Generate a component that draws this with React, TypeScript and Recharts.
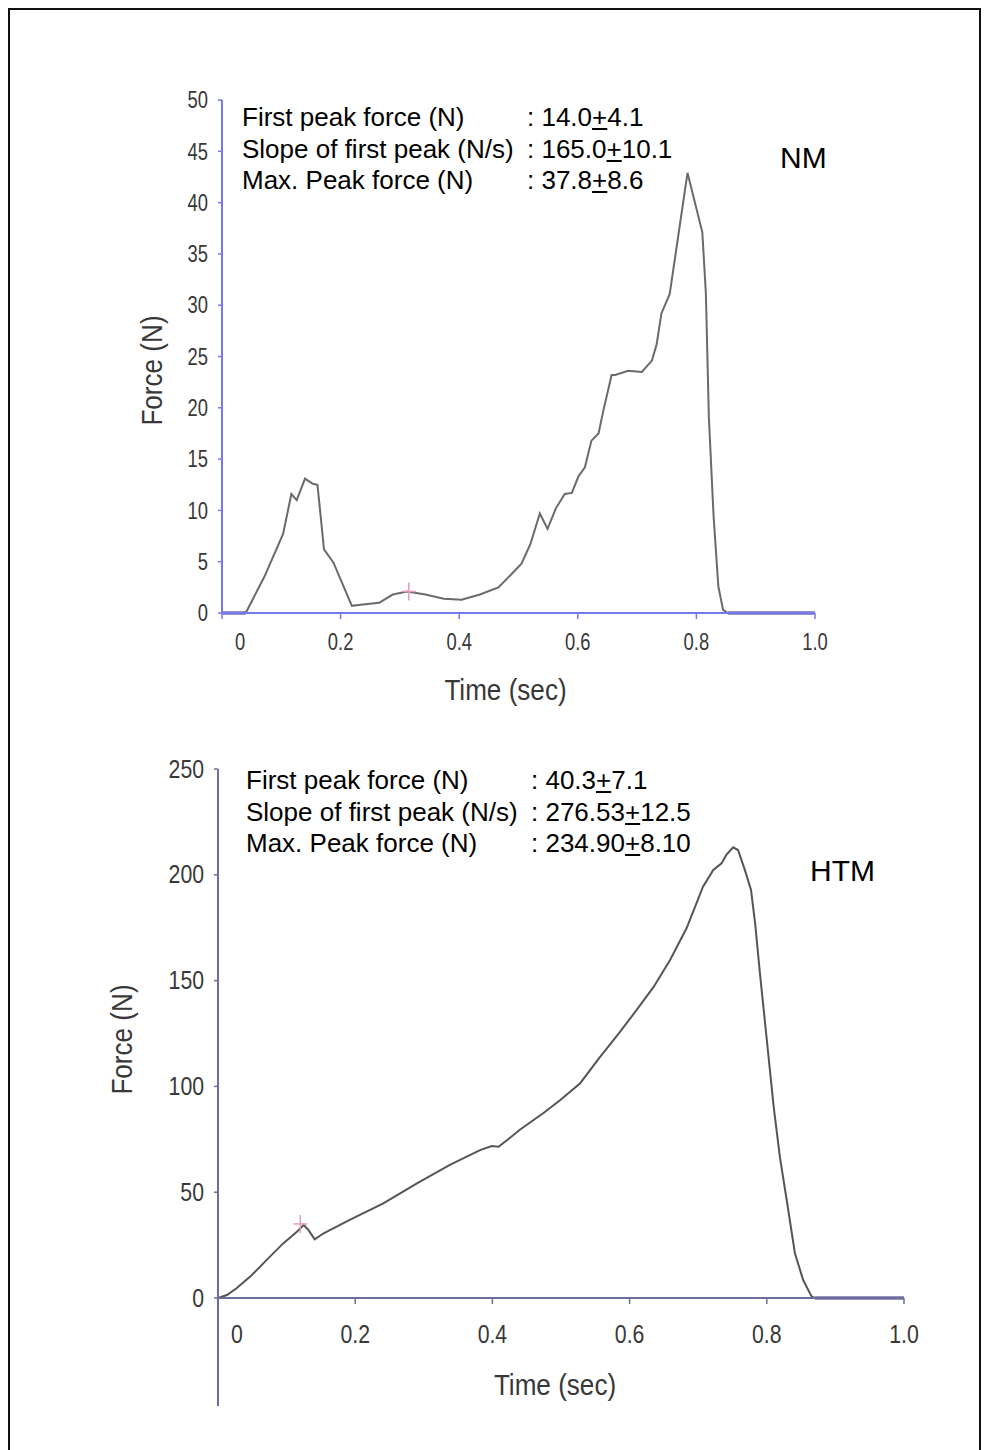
import { ComposedChart, Line, XAxis, YAxis, ReferenceLine, ReferenceDot, Label } from 'recharts';

// NM trace (time in s, force in N)
const nmTime = [
  0, 0.02, 0.04, 0.072, 0.103, 0.117, 0.126, 0.14, 0.153, 0.161, 0.172, 0.188, 0.219, 0.234, 0.265,
  0.288, 0.312, 0.343, 0.374, 0.404, 0.435, 0.466, 0.49, 0.505, 0.52, 0.536, 0.549, 0.563, 0.578,
  0.59, 0.601, 0.612, 0.623, 0.635, 0.643, 0.657, 0.663, 0.685, 0.708, 0.725, 0.733, 0.741, 0.755,
  0.769, 0.785, 0.81, 0.816, 0.821, 0.829, 0.837, 0.845, 0.853, 0.9, 0.95, 1.0,
];
const nmForce = [
  0, 0, 0, 3.6, 7.7, 11.6, 11.0, 13.1, 12.6, 12.5, 6.2, 4.9, 0.7, 0.8, 1.0,
  1.8, 2.1, 1.8, 1.4, 1.3, 1.8, 2.5, 3.9, 4.8, 6.7, 9.7, 8.2, 10.2, 11.6,
  11.7, 13.3, 14.2, 16.8, 17.5, 19.7, 23.2, 23.2, 23.6, 23.5, 24.6, 26.2, 29.2, 31.1,
  36.6, 42.9, 37.1, 31.1, 19.1, 9.4, 2.6, 0.3, 0, 0, 0, 0,
];
const nmTicksY = [0, 5, 10, 15, 20, 25, 30, 35, 40, 45, 50];
const nmMark = [0.315, 2.1];
const nmZeroRuns = [[0, 0.04], [0.853, 1.0]];
const nmStats = [
  ['First peak force (N)', '14.0', '4.1'],
  ['Slope of first peak (N/s)', '165.0', '10.1'],
  ['Max. Peak force (N)', '37.8', '8.6'],
];

// HTM trace
const htmTime = [
  0, 0.013, 0.027, 0.047, 0.071, 0.095, 0.115, 0.125, 0.132, 0.141, 0.154, 0.192, 0.241, 0.29,
  0.338, 0.382, 0.399, 0.409, 0.423, 0.44, 0.474, 0.499, 0.528, 0.557, 0.586, 0.61, 0.635, 0.659,
  0.683, 0.707, 0.722, 0.734, 0.741, 0.751, 0.758, 0.768, 0.777, 0.783, 0.79, 0.8, 0.81, 0.819,
  0.829, 0.841, 0.853, 0.865, 0.87, 0.93, 1.0,
];
const htmForce = [
  0, 1.4, 4.6, 10.1, 18, 25.8, 31.3, 34.5, 32.1, 27.7, 30.6, 36.9, 44.7, 54.2,
  62.9, 69.9, 71.8, 71.5, 75, 79.5, 87.3, 93.6, 101.5, 114, 125.8, 136, 147, 159.7,
  174.7, 194.4, 202.3, 205.4, 209.4, 213, 211.7, 202.3, 192.8, 177, 153.4, 122, 90.4, 66.8,
  46.3, 21.1, 8.5, 0.9, 0, 0, 0,
];
const htmTicksY = [0, 50, 100, 150, 200, 250];
const htmMark = [0.12, 35];
const htmZeroRuns = [[0.87, 1.0]];
const htmAxisFloor = -51;
const htmStats = [
  ['First peak force (N)', '40.3', '7.1'],
  ['Slope of first peak (N/s)', '276.53', '12.5'],
  ['Max. Peak force (N)', '234.90', '8.10'],
];

const timeTicks = [0, 0.2, 0.4, 0.6, 0.8, 1.0];

const arial = '"Liberation Sans", Arial, Helvetica, sans-serif';
const tickColor = '#383838';

// condensed text: Arial-metric font squeezed horizontally
const Narrow = ({ x, y, size, sx, anchor, baseline, rotate, children }: any) => (
  <text
    transform={`translate(${x},${y})${rotate ? ` rotate(${rotate})` : ''} scale(${sx},1)`}
    textAnchor={anchor}
    dominantBaseline={baseline}
    fill={tickColor}
    fontSize={size}
    fontFamily={arial}
  >
    {children}
  </text>
);

const XTick = (props: any) => {
  const { x, y, payload, zeroShift, size, sx } = props;
  const v = payload.value;
  return (
    <Narrow x={x + (v === 0 ? zeroShift : 0)} y={y + size * 0.42} size={size} sx={sx} anchor="middle" baseline="central">
      {v === 0 ? '0' : v.toFixed(1)}
    </Narrow>
  );
};

const YTick = (props: any) => {
  const { x, y, payload, size, sx } = props;
  return (
    <Narrow x={x} y={y} size={size} sx={sx} anchor="end" baseline="central">
      {payload.value}
    </Narrow>
  );
};

const Cross = (p: any) => (
  <g stroke="#e59bbd" strokeWidth={1.5}>
    <line x1={p.cx - 7} y1={p.cy} x2={p.cx + 7} y2={p.cy} />
    <line x1={p.cx} y1={p.cy - 9} x2={p.cx} y2={p.cy + 9} />
  </g>
);

function Stats({ rows, left, top }: { rows: string[][]; left: number; top: number }) {
  return (
    <div style={{ position: 'absolute', left, top, fontFamily: arial, fontSize: 26, lineHeight: '31.5px', color: '#000' }}>
      {rows.map((r) => (
        <div key={r[0]} style={{ display: 'flex', whiteSpace: 'nowrap' }}>
          <span style={{ width: 285, display: 'inline-block' }}>{r[0]}</span>
          <span>
            : {r[1]}
            <u>+</u>
            {r[2]}
          </span>
        </div>
      ))}
    </div>
  );
}

interface PanelProps {
  time: number[];
  force: number[];
  ticksY: number[];
  mark: number[];
  zeroRuns: number[][];
  axisColor: string;
  lineColor: string;
  height: number;
  margin: { top: number; right: number; bottom: number; left: number };
  xTickMargin: number;
  zeroShift: number;
  tickSize: number;
  tickSx: number;
  xTitle: { dx: number; dy: number };
  yTitle: { dx: number; dy: number };
  floor?: number;
}

function Panel(p: PanelProps) {
  const data = p.time.map((t, i) => ({ t, f: p.force[i] }));
  const top = p.ticksY[p.ticksY.length - 1];
  return (
    <ComposedChart width={987} height={p.height} data={data} margin={p.margin}>
      <XAxis
        type="number"
        dataKey="t"
        domain={[0, 1]}
        ticks={timeTicks}
        interval={0}
        height={60}
        tickSize={6}
        tickMargin={p.xTickMargin}
        axisLine={{ stroke: p.axisColor, strokeWidth: 2 }}
        tickLine={{ stroke: p.axisColor, strokeWidth: 1.5 }}
        tick={(tp: any) => <XTick {...tp} zeroShift={p.zeroShift} size={p.tickSize} sx={p.tickSx} />}
      >
        <Label
          content={({ viewBox }: any) => (
            <Narrow
              x={viewBox.x + viewBox.width / 2 + p.xTitle.dx}
              y={viewBox.y + p.xTitle.dy}
              size={29}
              sx={0.9}
              anchor="middle"
              baseline="central"
            >
              Time (sec)
            </Narrow>
          )}
        />
      </XAxis>
      <YAxis
        type="number"
        domain={[0, top]}
        ticks={p.ticksY}
        interval={0}
        width={70}
        tickSize={4}
        tickMargin={10}
        axisLine={{ stroke: p.axisColor, strokeWidth: 2 }}
        tickLine={{ stroke: p.axisColor, strokeWidth: 1.5 }}
        tick={(tp: any) => <YTick {...tp} size={p.tickSize} sx={p.tickSx} />}
      >
        <Label
          content={({ viewBox }: any) => (
            <Narrow
              x={viewBox.x + viewBox.width + p.yTitle.dx}
              y={viewBox.y + viewBox.height / 2 + p.yTitle.dy}
              size={29}
              sx={0.9}
              rotate={-90}
              anchor="middle"
              baseline="central"
            >
              Force (N)
            </Narrow>
          )}
        />
      </YAxis>
      {p.floor !== undefined && (
        <ReferenceLine
          segment={[{ x: 0, y: 0 }, { x: 0, y: p.floor }]}
          ifOverflow="visible"
          stroke={p.axisColor}
          strokeWidth={2}
        />
      )}
      <Line type="linear" dataKey="f" stroke={p.lineColor} strokeWidth={2} dot={false} isAnimationActive={false} />
      {p.zeroRuns.map((r) => (
        <ReferenceLine
          key={r[0]}
          segment={[{ x: r[0], y: 0 }, { x: r[1], y: 0 }]}
          stroke="#2c2c84"
          strokeWidth={3}
          ifOverflow="visible"
        />
      ))}
      <ReferenceDot x={p.mark[0]} y={p.mark[1]} r={8} shape={Cross} ifOverflow="visible" />
    </ComposedChart>
  );
}

export default function App() {
  return (
    <div style={{ position: 'absolute', left: 0, top: 0, width: 987, height: 1450, background: '#fff', overflow: 'hidden' }}>
      <div style={{ position: 'absolute', left: 8, top: 8, width: 969, height: 1460, border: '2px solid #111' }} />
      <div style={{ position: 'absolute', left: 0, top: 0 }}>
        <Panel
          time={nmTime}
          force={nmForce}
          ticksY={nmTicksY}
          mark={nmMark}
          zeroRuns={nmZeroRuns}
          axisColor="#7777ee"
          lineColor="#6a6a6a"
          height={720}
          margin={{ top: 100, right: 172, bottom: 47, left: 152 }}
          xTickMargin={13}
          zeroShift={18}
          tickSize={23}
          tickSx={0.8}
          xTitle={{ dx: -13, dy: 77 }}
          yTitle={{ dx: -70, dy: 14 }}
        />
      </div>
      <div style={{ position: 'absolute', left: 0, top: 700 }}>
        <Panel
          time={htmTime}
          force={htmForce}
          ticksY={htmTicksY}
          mark={htmMark}
          zeroRuns={htmZeroRuns}
          axisColor="#6e6e9c"
          lineColor="#555"
          height={750}
          margin={{ top: 69, right: 83, bottom: 92, left: 148 }}
          xTickMargin={20}
          zeroShift={19}
          tickSize={25}
          tickSx={0.85}
          xTitle={{ dx: -6, dy: 87 }}
          yTitle={{ dx: -96, dy: 6 }}
          floor={htmAxisFloor}
        />
      </div>
      <Stats rows={nmStats} left={242} top={102} />
      <Stats rows={htmStats} left={246} top={765} />
      <div style={{ position: 'absolute', left: 780, top: 141, fontFamily: arial, fontSize: 30, lineHeight: '34px' }}>NM</div>
      <div style={{ position: 'absolute', left: 810, top: 854, fontFamily: arial, fontSize: 30, lineHeight: '34px' }}>HTM</div>
    </div>
  );
}
